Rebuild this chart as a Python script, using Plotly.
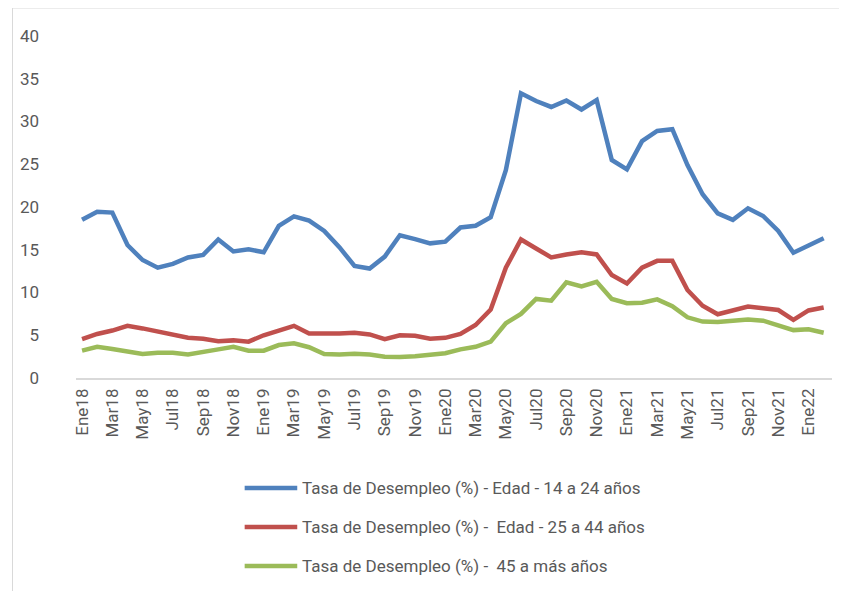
import plotly.graph_objects as go

months = ["Ene", "Feb", "Mar", "Abr", "May", "Jun", "Jul", "Ago", "Sep", "Oct", "Nov", "Dic"]
categories = [f"{m}{y}" for y in ["18", "19", "20", "21"] for m in months] + ["Ene22", "Feb22"]

tasa_14_24 = [18.5, 19.45, 19.35, 15.55, 13.8, 12.9, 13.35, 14.1, 14.4, 16.2, 14.8, 15.05,
              14.7, 17.8, 18.9, 18.4, 17.2, 15.3, 13.1, 12.8, 14.2, 16.7, 16.25, 15.75,
              15.95, 17.6, 17.8, 18.8, 24.3, 33.3, 32.4, 31.7, 32.45, 31.4, 32.5, 25.5,
              24.4, 27.7, 28.9, 29.1, 24.9, 21.5, 19.25, 18.5, 19.85, 18.95, 17.2, 14.65,
              15.5, 16.35]
tasa_25_44 = [4.55, 5.15, 5.55, 6.1, 5.8, 5.4, 5.1, 4.7, 4.6, 4.3, 4.4, 4.25,
              5.0, 5.55, 6.1, 5.2, 5.15, 5.2, 5.3, 5.1, 4.55, 5.0, 4.95, 4.6,
              4.7, 5.15, 6.2, 8.0, 12.9, 16.2, 15.15, 14.1, 14.45, 14.7, 14.45, 12.05,
              11.05, 12.9, 13.7, 13.7, 10.3, 8.45, 7.45, 7.95, 8.35, 8.15, 7.95, 6.8,
              7.9, 8.25]
tasa_45_mas = [3.2, 3.65, 3.4, 3.1, 2.8, 2.95, 2.95, 2.75, 3.1, 3.35, 3.65, 3.2,
               3.2, 3.85, 4.05, 3.6, 2.8, 2.75, 2.85, 2.75, 2.5, 2.45, 2.55, 2.7,
               2.9, 3.35, 3.65, 4.25, 6.4, 7.5, 9.25, 9.05, 11.2, 10.7, 11.25, 9.25,
               8.75, 8.8, 9.2, 8.4, 7.1, 6.6, 6.55, 6.7, 6.85, 6.7, 6.2, 5.6,
               5.7, 5.3]

series_names = ["Tasa de Desempleo (%) - Edad - 14 a 24 años",
                "Tasa de Desempleo (%) -  Edad - 25 a 44 años",
                "Tasa de Desempleo (%) -  45 a más años"]
series_values = [tasa_14_24, tasa_25_44, tasa_45_mas]
colors = ["#4F81BD", "#C0504D", "#9BBB59"]
tick_labels = categories[::2]
y_ticks = [0, 5, 10, 15, 20, 25, 30, 35, 40]

FONT = "Roboto"
TXT = "#595959"

# page body has an 8px margin; compensate so the figure fills the 847x591 window
OFF = 8
W, H = 847 - OFF, 591 - OFF
L, R, T = 70 - OFF, 15, 36 - OFF
B = H - (378 - OFF)
pw, ph = W - L - R, H - T - B

def px(x):
    return (x - OFF - L) / pw

def py(y):
    return (H - B - (y - OFF)) / ph

fig = go.Figure()
for name, vals, col in zip(series_names, series_values, colors):
    fig.add_trace(go.Scatter(x=categories, y=vals, mode="lines", name=name,
                             line=dict(color=col, width=4.5), showlegend=False))

shapes = []
annotations = []
legend_rows = [488, 527, 566]
for name, col, yy in zip(series_names, colors, legend_rows):
    shapes.append(dict(type="line", xref="paper", yref="paper",
                       x0=px(240), x1=px(293), y0=py(yy), y1=py(yy),
                       line=dict(color=col, width=4.5)))
    annotations.append(dict(text=name, xref="paper", yref="paper", x=px(296), y=py(yy),
                            xanchor="left", yanchor="middle", showarrow=False,
                            font=dict(family=FONT, size=17, color=TXT)))

shapes.append(dict(type="rect", xref="paper", yref="paper", layer="below",
                   x0=px(6), x1=px(846), y0=py(8), y1=py(600),
                   line=dict(color="#D9D9D9", width=1)))

fig.update_layout(
    width=W, height=H,
    margin=dict(l=L, r=R, t=T, b=B),
    paper_bgcolor="white", plot_bgcolor="white",
    font=dict(family=FONT, size=15, color=TXT),
    shapes=shapes, annotations=annotations,
    xaxis=dict(type="category", range=[-0.4, 49.55], tickmode="array",
               tickvals=tick_labels, ticktext=tick_labels, tickangle=-90,
               showgrid=False, showline=True, linecolor="#D9D9D9", linewidth=1.5,
               ticks="", ticklabelstandoff=2, zeroline=False,
               tickfont=dict(family=FONT, size=17, color=TXT)),
    yaxis=dict(range=[0, 40], tickvals=y_ticks, showgrid=False, zeroline=False,
               showline=False, ticks="", ticklabelstandoff=36,
               tickfont=dict(family=FONT, size=17, color=TXT)),
)

fig.write_html("out.html")
